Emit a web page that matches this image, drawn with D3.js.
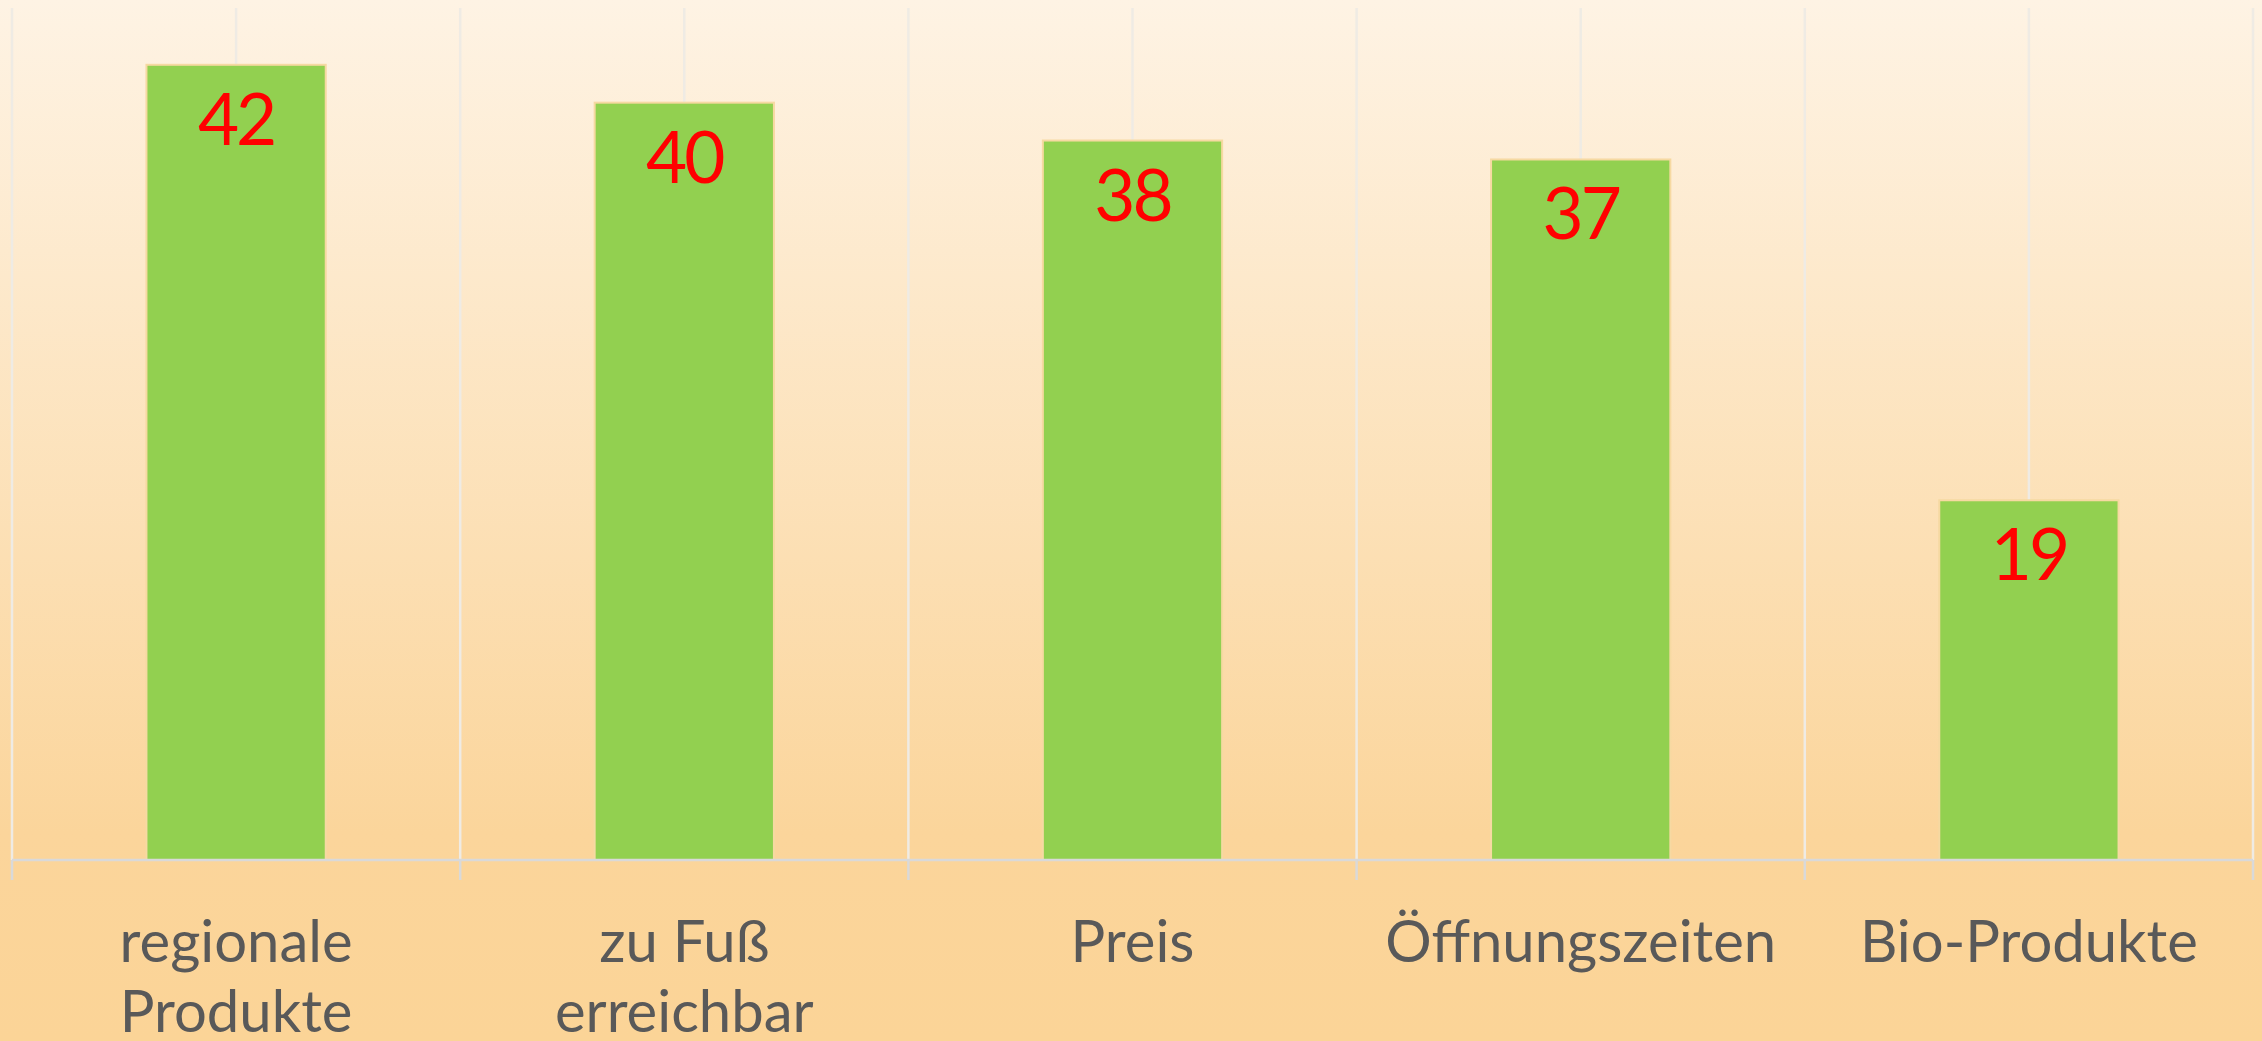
<!DOCTYPE html>
<html lang="de">
<head>
    <meta charset="UTF-8">
    <title>Einkaufskriterien</title>
    <script src="https://d3js.org/d3.v7.min.js"></script>
    <style>
        body {
            margin: 0;
            padding: 0;
            overflow: hidden;
        }
        svg {
            display: block;
        }
        .cat-label {
            font-family: Lato, "Noto Sans", sans-serif;
            font-size: 58px;
            fill: #595959;
            text-anchor: middle;
        }
        .value-label {
            font-family: Lato, "Noto Sans", sans-serif;
            font-size: 71px;
            fill: #ff0000;
            text-anchor: middle;
            letter-spacing: -3px;
        }
    </style>
</head>
<body>
    <svg id="chart"></svg>

    <script>
        // Data
        const categories = ["regionale Produkte", "zu Fuß erreichbar", "Preis", "Öffnungszeiten", "Bio-Produkte"];
        const labelLines = [["regionale", "Produkte"], ["zu Fuß", "erreichbar"], ["Preis"], ["Öffnungszeiten"], ["Bio-Produkte"]];
        const values = [42, 40, 38, 37, 19];
        const yDomain = [0, 45];

        const width = 2262;
        const height = 1041;
        const plot = { left: 12, right: 2253, top: 8, bottom: 860 };

        const svg = d3.select("#chart")
            .attr("width", width)
            .attr("height", height);

        // background gradient
        const defs = svg.append("defs");
        const grad = defs.append("linearGradient")
            .attr("id", "bg")
            .attr("x1", 0).attr("y1", 0)
            .attr("x2", 0).attr("y2", 1);
        grad.append("stop").attr("offset", "0%").attr("stop-color", "#fef3e4");
        grad.append("stop").attr("offset", "80%").attr("stop-color", "#fbd59b");
        grad.append("stop").attr("offset", "100%").attr("stop-color", "#fbd497");

        svg.append("rect")
            .attr("width", width)
            .attr("height", height)
            .attr("fill", "url(#bg)");

        // scales
        const x = d3.scaleBand()
            .domain(categories)
            .range([plot.left, plot.right])
            .padding(0);

        const xBar = d3.scaleBand()
            .domain(categories)
            .range([plot.left, plot.right])
            .paddingInner(0.6)
            .paddingOuter(0.3);

        const y = d3.scaleLinear()
            .domain(yDomain)
            .range([plot.bottom, plot.top]);

        // vertical gridlines: category boundaries and centers
        const boundaries = categories.map(c => x(c)).concat([plot.right]);
        const centers = categories.map(c => x(c) + x.bandwidth() / 2);

        svg.append("g")
            .selectAll("line")
            .data(boundaries.concat(centers))
            .join("line")
            .attr("x1", d => d)
            .attr("x2", d => d)
            .attr("y1", y(yDomain[1]))
            .attr("y2", y(0))
            .attr("stroke", "#efebe4")
            .attr("stroke-width", 2.5);

        // bars
        svg.append("g")
            .selectAll("rect")
            .data(values)
            .join("rect")
            .attr("x", (d, i) => xBar(categories[i]))
            .attr("y", d => y(d))
            .attr("width", xBar.bandwidth())
            .attr("height", d => y(0) - y(d))
            .attr("fill", "#92d050")
            .attr("stroke", "#f6d9a2")
            .attr("stroke-width", 2);

        // value labels inside end
        svg.append("g")
            .selectAll("text")
            .data(values)
            .join("text")
            .attr("class", "value-label")
            .attr("x", (d, i) => xBar(categories[i]) + xBar.bandwidth() / 2)
            .attr("y", d => y(d) + 80)
            .text(d => d);

        // category axis
        const axis = svg.append("g");
        axis.append("line")
            .attr("x1", plot.left)
            .attr("x2", plot.right)
            .attr("y1", y(0))
            .attr("y2", y(0))
            .attr("stroke", "#d9d9d9")
            .attr("stroke-width", 2.5);

        axis.selectAll(".tick")
            .data(boundaries)
            .join("line")
            .attr("class", "tick")
            .attr("x1", d => d)
            .attr("x2", d => d)
            .attr("y1", y(0))
            .attr("y2", y(0) + 20)
            .attr("stroke", "#d9d9d9")
            .attr("stroke-width", 2.5);

        const labels = axis.selectAll(".cat-label")
            .data(categories)
            .join("text")
            .attr("class", "cat-label")
            .attr("x", d => x(d) + x.bandwidth() / 2)
            .attr("y", 962);

        labels.selectAll("tspan")
            .data((d, i) => labelLines[i])
            .join("tspan")
            .attr("x", function () { return this.parentNode.getAttribute("x"); })
            .attr("dy", (d, i) => i === 0 ? 0 : 70)
            .text(d => d);
    </script>
</body>
</html>
